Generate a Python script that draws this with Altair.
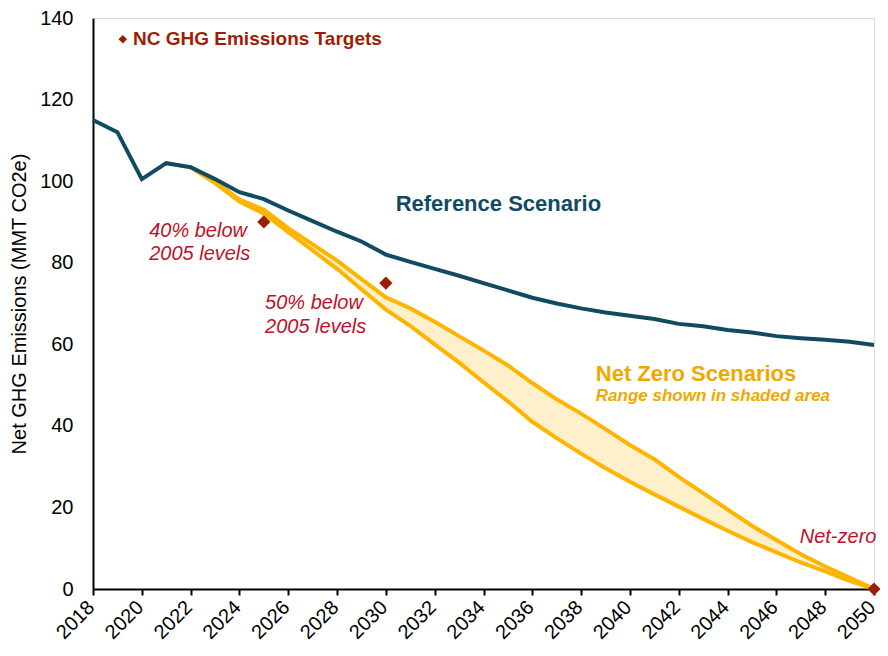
import altair as alt
import pandas as pd

# ---- data ----
years = list(range(2018, 2051))
reference = [115.0, 112.0, 100.5, 104.4, 103.4, 100.5, 97.3, 95.6, 92.8, 90.2,
             87.6, 85.2, 82.0, 80.2, 78.5, 76.8, 75.0, 73.2, 71.4, 70.0,
             68.8, 67.8, 67.0, 66.2, 65.0, 64.4, 63.5, 62.9, 62.0, 61.5,
             61.1, 60.6, 59.8]

nz_years = list(range(2022, 2051))
nz_upper = [103.4, 100.0, 95.5, 93.0, 88.5, 84.5, 80.5, 76.0, 71.5, 68.8,
            65.5, 62.0, 58.5, 54.8, 50.5, 46.5, 43.0, 39.2, 35.3, 31.8,
            27.5, 23.5, 19.5, 15.5, 12.0, 8.5, 5.5, 2.8, 0.0]
nz_lower = [103.4, 99.5, 95.0, 92.0, 87.5, 83.0, 78.5, 73.5, 68.5, 64.5,
            60.0, 55.5, 50.7, 46.0, 41.0, 37.0, 33.2, 29.6, 26.3, 23.2,
            20.2, 17.2, 14.3, 11.5, 9.0, 6.5, 4.3, 2.0, 0.0]

target_years = [2025, 2030, 2050]
target_values = [90, 75, 0]

x_ticks = list(range(2018, 2051, 2))
y_ticks = list(range(0, 141, 20))

FONT = "Liberation Sans"
REF_COLOR = "#114B63"
NZ_LINE = "#FFB400"
NZ_FILL = "#FFF0CC"
TARGET_COLOR = "#9C1F05"
NOTE_RED = "#C0102A"
NZ_TEXT = "#F0A800"

ref_df = pd.DataFrame({"year": years, "value": reference})
nz_df = pd.DataFrame({"year": nz_years, "upper": nz_upper, "lower": nz_lower})
nz_long = pd.concat([
    pd.DataFrame({"year": nz_years, "value": nz_upper, "bound": "upper"}),
    pd.DataFrame({"year": nz_years, "value": nz_lower, "bound": "lower"}),
])
tgt_df = pd.DataFrame({"year": target_years, "value": target_values})

xscale = alt.Scale(domain=[2018, 2050], nice=False, zero=False)
yscale = alt.Scale(domain=[0, 140], nice=False)

xaxis = alt.Axis(values=x_ticks, format="d", labelAngle=-45, labelAlign="right",
                 labelBaseline="middle", labelFontSize=20, labelFont=FONT,
                 labelColor="#000000", tickColor="#000000", tickWidth=2,
                 tickSize=6, domainColor="#000000", domainWidth=2, grid=False,
                 title=None, labelPadding=9, labelOffset=-2, labelOverlap=False,
                 labelBound=False, labelFlush=False)
yaxis = alt.Axis(values=y_ticks, labelFontSize=20, labelFont=FONT,
                 labelColor="#000000", ticks=False, labelPadding=20,
                 domainColor="#000000", domainWidth=2, grid=False,
                 title="Net GHG Emissions (MMT CO2e)", titleFont=FONT,
                 titleFontSize=20, titleFontWeight="normal", titleColor="#000000",
                 titlePadding=10)

base_x = alt.X("year:Q", scale=xscale, axis=xaxis)

area = alt.Chart(nz_df).mark_area(color=NZ_FILL, opacity=1).encode(
    x=base_x,
    y=alt.Y("upper:Q", scale=yscale, axis=yaxis),
    y2="lower:Q",
)

nz_lines = alt.Chart(nz_long).mark_line(color=NZ_LINE, strokeWidth=4).encode(
    x=alt.X("year:Q", scale=xscale),
    y=alt.Y("value:Q", scale=yscale),
    detail="bound:N",
)

ref_line = alt.Chart(ref_df).mark_line(color=REF_COLOR, strokeWidth=4).encode(
    x=alt.X("year:Q", scale=xscale),
    y=alt.Y("value:Q", scale=yscale),
)

targets = alt.Chart(tgt_df).mark_point(shape="diamond", filled=True, size=175,
                                       color=TARGET_COLOR, opacity=1).encode(
    x=alt.X("year:Q", scale=xscale),
    y=alt.Y("value:Q", scale=yscale),
)

# legend-like key
key_df = pd.DataFrame({"year": [2019.22], "value": [134.8]})
key_mark = alt.Chart(key_df).mark_point(shape="diamond", filled=True, size=75,
                                        color=TARGET_COLOR, opacity=1).encode(
    x=alt.X("year:Q", scale=xscale), y=alt.Y("value:Q", scale=yscale))
key_text = alt.Chart(pd.DataFrame({"year": [2019.64], "value": [134.8],
                                   "label": ["NC GHG Emissions Targets"]})).mark_text(
    align="left", baseline="middle", font=FONT, fontSize=19, fontWeight="bold",
    color=TARGET_COLOR).encode(
    x=alt.X("year:Q", scale=xscale), y=alt.Y("value:Q", scale=yscale), text="label:N")


def note(xs, ys, labels, **kw):
    df = pd.DataFrame({"year": xs, "value": ys, "label": labels})
    return alt.Chart(df).mark_text(font=FONT, baseline="middle", **kw).encode(
        x=alt.X("year:Q", scale=xscale), y=alt.Y("value:Q", scale=yscale),
        text="label:N")


ref_note = note([2030.4], [94.4], ["Reference Scenario"], align="left",
                fontSize=22, fontWeight="bold", color=REF_COLOR)
note40 = note([2020.3, 2020.3], [87.7, 82.1], ["40% below", "2005 levels"],
              align="left", fontSize=20, fontStyle="italic", color=NOTE_RED)
note50 = note([2025.05, 2025.05], [70.1, 64.2], ["50% below", "2005 levels"],
              align="left", fontSize=20, fontStyle="italic", color=NOTE_RED)
nz_note = note([2038.6], [52.7], ["Net Zero Scenarios"], align="left",
               fontSize=22, fontWeight="bold", color=NZ_TEXT)
nz_sub = note([2038.6], [47.3], ["Range shown in shaded area"], align="left",
              fontSize=17, fontWeight="bold", fontStyle="italic", color=NZ_TEXT)
netzero = note([2050.1], [12.7], ["Net-zero"], align="right",
               fontSize=20, fontStyle="italic", color=NOTE_RED)

chart = alt.layer(
    area, nz_lines, ref_line, targets, key_mark, key_text,
    ref_note, note40, note50, nz_note, nz_sub, netzero,
).properties(
    width=781, height=571,
    autosize=alt.AutoSizeParams(type="none"),
    padding={"left": 85, "top": 10, "right": 6, "bottom": 55},
).configure_view(stroke=None).configure(background="white")

chart.save("out.html", embed_options={"renderer": "svg", "actions": False})
